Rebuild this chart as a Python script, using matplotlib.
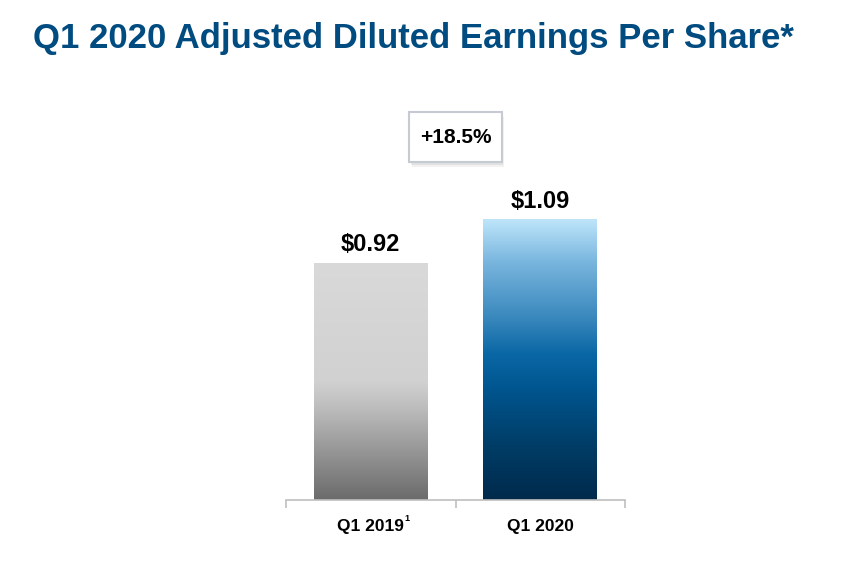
import numpy as np
import matplotlib
matplotlib.use("Agg")
from matplotlib import pyplot as plt
from matplotlib.colors import LinearSegmentedColormap
from matplotlib.patches import FancyBboxPatch

plt.rcParams['font.family'] = ['Liberation Sans', 'DejaVu Sans']

title = "Q1 2020 Adjusted Diluted Earnings Per Share*"
categories = ["Q1 2019", "Q1 2020"]
footnotes = ["1", ""]
eps = [0.92, 1.09]
change_label = "+18.5%"

# gradients from top (0) to bottom (1) of each bar
gray_stops = [(0.0, "#d9d9d9"), (0.5, "#d1d1d1"), (0.6, "#bfbfbf"), (1.0, "#6b6b6b")]
blue_stops = [(0.0, "#bee5fa"), (0.15, "#79b6de"), (0.35, "#3a88bd"),
              (0.48, "#0a67a5"), (0.6, "#005690"), (0.8, "#003e68"), (1.0, "#002a4c")]
gradients = [gray_stops, blue_stops]

fig = plt.figure(figsize=(8.43, 5.63), dpi=100)
W, H = 843, 563
ax = fig.add_axes([286 / W, (H - 500) / H, (625 - 286) / W, 400 / H])

x = np.arange(len(categories))
bars = ax.bar(x, eps, width=0.67, color="none", zorder=2)

for bar, stops in zip(bars, gradients):
    cmap = LinearSegmentedColormap.from_list("g", stops)
    grad = np.linspace(0, 1, 256).reshape(-1, 1)
    x0, y0 = bar.get_x(), bar.get_y()
    im = ax.imshow(grad, cmap=cmap, aspect="auto", origin="upper",
                   extent=[x0, x0 + bar.get_width(), y0, y0 + bar.get_height()],
                   zorder=1, interpolation="bicubic")
    im.set_clip_path(bar)

for xi, v in zip(x, eps):
    ax.text(xi, v + 0.07, f"${v:.2f}", ha="center", va="center",
            fontsize=17, fontweight="bold", color="black")

# change box between the two bars
bx, by, bw, bh = 0.5, 1.409, 0.543, 0.194
for off, a in [(0.012, 0.10), (0.007, 0.15)]:
    ax.add_patch(FancyBboxPatch((bx - bw / 2 + off, by - bh / 2 - off * 1.5), bw, bh,
                                boxstyle="square,pad=0", fc="#808080", ec="none",
                                alpha=a, zorder=3, clip_on=False))
ax.add_patch(FancyBboxPatch((bx - bw / 2, by - bh / 2), bw, bh, boxstyle="square,pad=0",
                            fc="white", ec="#c5cad3", lw=1.5, zorder=4, clip_on=False))
ax.text(bx, by, change_label, ha="center", va="center", fontsize=15,
        fontweight="bold", color="black", zorder=5)

ax.set_xlim(-0.5, 1.5)
ax.set_ylim(0, 400 / 257.6)

for s in ["top", "right", "left"]:
    ax.spines[s].set_visible(False)
ax.spines["bottom"].set_color("#bfbfbf")
ax.spines["bottom"].set_linewidth(1.2)
ax.set_yticks([])

ax.set_xticks(x)
ax.set_xticklabels(categories, fontsize=12.5, fontweight="bold")
ax.tick_params(axis="x", which="major", length=0, pad=14)
ax.set_xticks([-0.5, 0.5, 1.5], minor=True)
ax.tick_params(axis="x", which="minor", length=6, color="#bfbfbf", width=1.2, direction="out")

for lab, f in zip(ax.get_xticklabels(), footnotes):
    if f:
        ax.annotate(f, xy=(1, 1), xycoords=lab, xytext=(0.5, 4), textcoords="offset points",
                    ha="left", va="top", fontsize=6.5, fontweight="bold")

fig.text(33 / W, 1 - 48 / H, title, ha="left", va="baseline",
         fontsize=25, fontweight="bold", color="#004b80")

fig.savefig("out.png", dpi=100)
